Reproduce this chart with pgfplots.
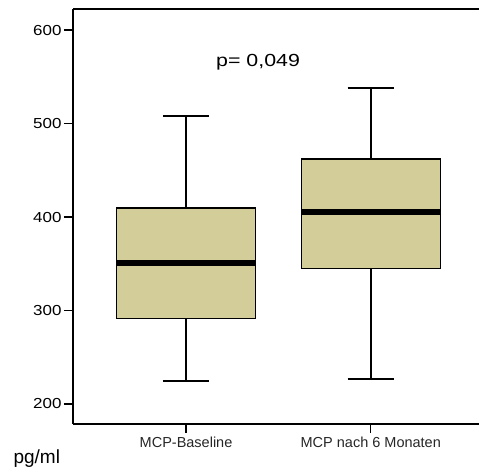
\documentclass[border=0pt]{standalone}
\usepackage{fontspec}
\setmainfont{Liberation Sans}
\newfontfamily\tickfont[FakeStretch=1.17]{Liberation Sans}
\newfontfamily\pfont[FakeStretch=1.22]{Liberation Sans}
\usepackage{pgfplots}
\pgfplotsset{compat=1.18}
\usepgfplotslibrary{statistics}
\definecolor{boxfill}{RGB}{211,206,153}
\begin{document}
\begin{tikzpicture}
\useasboundingbox (0,0) rectangle (479pt,471pt);
\begin{axis}[
  at={(73pt,47pt)}, anchor=south west,
  scale only axis, width=406pt, height=415pt,
  xmin=-0.612, xmax=1.586, ymin=178.6, ymax=622.5,
  axis lines=left, axis line style={line width=1.6pt, -},
  tick align=outside, major tick length=9pt,
  tick style={line width=1.4pt, black},
  xtick={0,1}, xticklabels={MCP-Baseline, MCP nach 6 Monaten},
  ytick={200,300,400,500,600},
  /pgf/number format/assume math mode=true,
  yticklabel style={font=\tickfont\fontsize{14.5}{16}\selectfont, xshift=1pt},
  xticklabel style={font=\fontsize{14.5}{16}\selectfont, color=black!85},
  clip=false,
  boxplot/draw direction=y,
]
\addplot+[boxplot prepared={median=350.8, upper quartile=409.6, lower quartile=291.7, upper whisker=508.3, lower whisker=224.6, draw position=0, box extend=0.753, whisker extend=0.25},
  fill=boxfill, draw=black, line width=1.3pt, solid, mark=none,
  boxplot/every whisker/.style={line width=1.5pt},
  boxplot/every median/.style={line width=6pt}] coordinates {};
\addplot+[boxplot prepared={median=405, upper quartile=462, lower quartile=345.1, upper whisker=538, lower whisker=226.7, draw position=1, box extend=0.753, whisker extend=0.25},
  fill=boxfill, draw=black, line width=1.3pt, solid, mark=none,
  boxplot/every whisker/.style={line width=1.5pt},
  boxplot/every median/.style={line width=6pt}] coordinates {};
\draw[line width=1.6pt] (rel axis cs:0,1) -- (rel axis cs:1,1);
\node[font=\pfont\fontsize{17.5}{20}\selectfont] at (axis cs:0.39,566) {p= 0,049};
\end{axis}
\node[anchor=west, font=\fontsize{19}{21}\selectfont] at (10pt,12pt) {pg/ml};
\end{tikzpicture}
\end{document}
